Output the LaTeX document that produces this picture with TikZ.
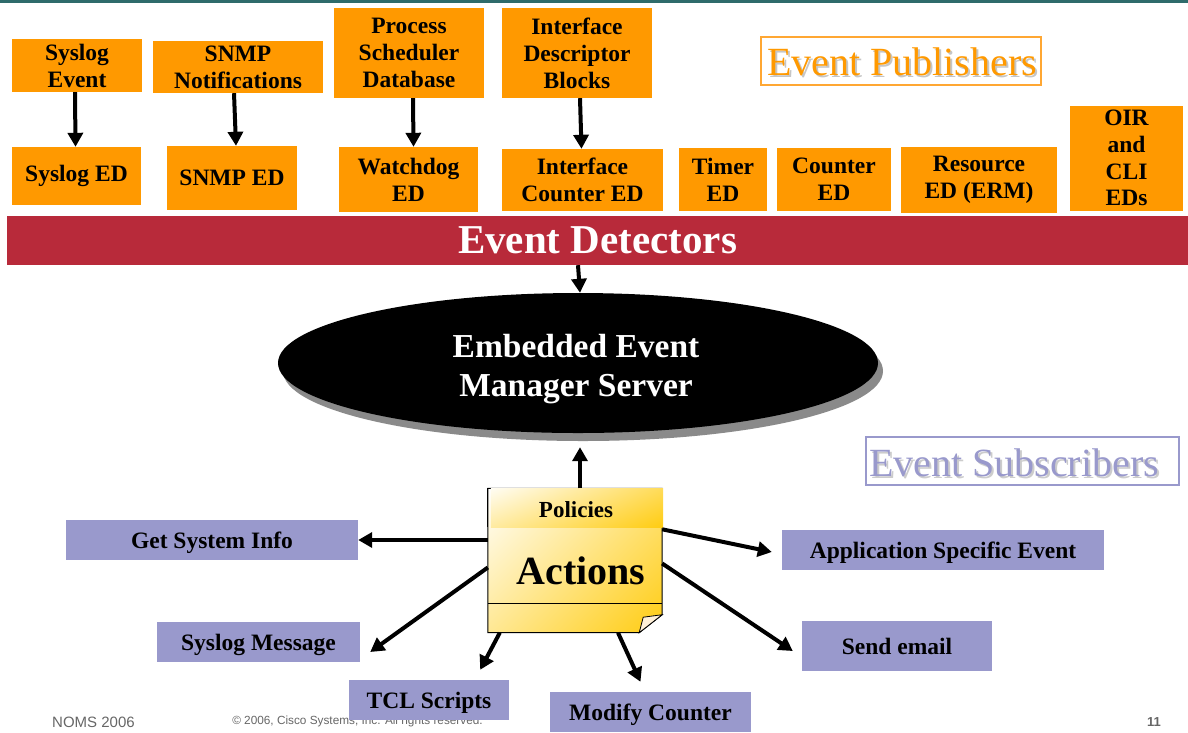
\documentclass[tikz,border=0pt]{standalone}
\usepackage{fontspec}
\setmainfont{Liberation Serif}
\newfontfamily\footfont{Liberation Sans}
\usetikzlibrary{arrows.meta,shapes.geometric,calc,shadings}
\definecolor{eorange}{HTML}{FF9900}
\definecolor{eorangeline}{HTML}{FFA733}
\definecolor{lav}{HTML}{9999CC}
\definecolor{ered}{HTML}{B82A3A}
\definecolor{teal1}{HTML}{2F6B6B}
\definecolor{gold1}{HTML}{FFCC11}
\definecolor{peach}{HTML}{FFF0D8}
\definecolor{footgray}{HTML}{666666}
\definecolor{shadowgray}{HTML}{8A8A8A}
\tikzset{
  ob/.style={fill=eorange, inner sep=0pt, align=center, font=\bfseries\fontsize{23.5}{27}\selectfont},
  lb/.style={fill=lav, inner sep=0pt, align=center, text height=19pt, text depth=3pt, font=\bfseries\fontsize{23.5}{26}\selectfont},
  arr/.style={line width=4pt, -{Triangle[width=15pt,length=14pt]}},
  title/.style={inner sep=0pt, font=\fontsize{40}{44}\selectfont},
}
\begin{document}
\begin{tikzpicture}[x=1pt,y=-1pt]
\useasboundingbox (0,0) rectangle (1188,732);
% top rule
\fill[teal1] (0,0) rectangle (1188,3);

% publishers
\node[ob, minimum width=130pt, minimum height=53pt] (se) at (77,65.5) {Syslog\\Event};
\node[ob, minimum width=170pt, minimum height=52pt] (sn) at (238,67) {SNMP\\Notifications};
\node[ob, minimum width=150pt, minimum height=90pt] (psd) at (409,53) {Process\\Scheduler\\Database};
\node[ob, minimum width=150pt, minimum height=90pt] (idb) at (577,53) {Interface\\Descriptor\\Blocks};

% detectors
\node[ob, minimum width=129pt, minimum height=58pt] (sed) at (76.5,176) {Syslog ED};
\node[ob, minimum width=130pt, minimum height=64pt] (sned) at (232,178) {SNMP ED};
\node[ob, minimum width=139pt, minimum height=65pt] (wed) at (408.5,179.5) {Watchdog\\ED};
\node[ob, minimum width=161pt, minimum height=62pt] (ice) at (582.5,180) {Interface\\Counter ED};
\node[ob, minimum width=88pt, minimum height=63pt] (ted) at (723,179.5) {Timer\\ED};
\node[ob, minimum width=114pt, minimum height=63pt] (ced) at (834,179.5) {Counter\\ED};
\node[ob, minimum width=156pt, minimum height=66pt] (red) at (979,180) {Resource\\ED (ERM)};
\node[ob, minimum width=113pt, minimum height=105pt, font=\bfseries\fontsize{23.5}{26.7}\selectfont] (oir) at (1126.5,158) {OIR\\and\\CLI\\EDs};

\draw[arr] ([xshift=-2pt]se.south) -- ([xshift=-1pt]sed.north);
\draw[arr] ([xshift=-4pt]sn.south) -- ([xshift=4pt]sned.north);
\draw[arr] ([xshift=4pt]psd.south) -- ([xshift=5pt]wed.north);
\draw[arr] ([xshift=3pt]idb.south) -- ([xshift=-1pt]ice.north);

% Event Publishers label
\node[draw=eorangeline, line width=1.2pt, minimum width=280pt, minimum height=48pt] (epbox) at (901,61) {};
\node[title, text=gray!45] (epsh) at (904,64) {Event Publishers};
\node[title, text=eorange] (ep) at (902,62) {Event Publishers};

% red bar
\node[fill=ered, minimum width=1181pt, minimum height=49pt, inner sep=0pt, text=white,
      font=\bfseries\fontsize{41}{43}\selectfont] (bar) at (597.5,240.5) {Event Detectors};

% server ellipse
\node[ellipse, fill=shadowgray, minimum width=600pt, minimum height=140pt, inner sep=0pt] (shd) at (583,371) {};
\node[ellipse, fill=black, minimum width=600pt, minimum height=140pt, inner sep=0pt] (ems) at (578,363) {};
\node[text=white, align=center, inner sep=0pt, font=\bfseries\fontsize{33.5}{39}\selectfont] (emst) at (576,369) {Embedded Event\\Manager Server};
\draw[arr] (ems.north |- bar.south) -- ([xshift=2pt]ems.north);

% Event Subscribers label
\node[draw=lav, line width=1.2pt, minimum width=313pt, minimum height=48pt] (esbox) at (1022.5,461) {};
\node[title, text=gray!40] (essh) at (1016,465) {Event Subscribers};
\node[title, text=lav] (es) at (1014,463) {Event Subscribers};

% footer
\node[font=\footfont\fontsize{15}{17}\selectfont, text=footgray, inner sep=0pt] (noms) at (93.5,722) {NOMS 2006};
\node[font=\footfont\fontsize{11.8}{13}\selectfont, text=footgray, inner sep=0pt] (copy) at (357.5,721) {© 2006, Cisco Systems, Inc. All rights reserved.};
\node[font=\footfont\bfseries\fontsize{13}{15}\selectfont, text=footgray, inner sep=0pt] (pg) at (1154,722) {11};

% subscribers
\node[lb, minimum width=292pt, minimum height=40pt] (gsi) at (212,540) {Get System Info};
\node[lb, minimum width=203pt, minimum height=40pt] (sm) at (258.5,642) {Syslog Message};
\node[lb, minimum width=160pt, minimum height=40pt] (tcl) at (429,700) {TCL Scripts};
\node[lb, minimum width=201pt, minimum height=40pt] (mc) at (650.5,712) {Modify Counter};
\node[lb, minimum width=322pt, minimum height=40pt] (ase) at (943,550) {Application Specific Event};
\node[lb, minimum width=190pt, minimum height=50pt] (sem) at (897,646) {Send email};

% note
\node[minimum width=174pt, minimum height=144pt, inner sep=0pt] (note) at (575,560.5) {};
\shadedraw[upper left=white, upper right=gold1!55, lower left=gold1!45, lower right=gold1, line width=1pt]
  (note.north west) -- (note.north east) -- ([yshift=18pt]note.south east)
  -- ([xshift=-23pt]note.south east) -- (note.south west) -- cycle;
\shade[upper left=white!95!gold1, lower left=gold1!40, upper right=gold1!70, lower right=gold1]
  ([xshift=3pt]note.north west) rectangle ([xshift=1pt,yshift=-39pt]note.north east);
\draw[line width=1pt] (note.north west) -- ([yshift=-39pt]note.north west);
\draw[line width=1pt] ([yshift=29.5pt]note.south west) -- ([yshift=29.5pt]note.south east);
\filldraw[fill=peach, line width=0.8pt] ([yshift=18pt]note.south east) -- ([xshift=-23pt]note.south east)
  -- ([xshift=-19pt,yshift=15.5pt]note.south east) -- cycle;
\node[inner sep=0pt, font=\bfseries\fontsize{23}{25}\selectfont] (pol) at (576,510) {Policies};
\node[inner sep=0pt, font=\bfseries\fontsize{40}{44}\selectfont] (act) at (581,571) {Actions};

% note arrows
\draw[arr] (note.north -| ems.south) ++(2pt,0) -- ([xshift=2pt,yshift=-14pt]ems.south);
\draw[arr] (note.west |- gsi.east) -- (gsi.east);
\draw[arr] ([yshift=-7pt]note.west) -- ([xshift=10pt,yshift=-10pt]sm.east);
\draw[arr] ([xshift=12pt]note.south west) -- ([xshift=-29pt,yshift=10pt]tcl.north east);
\draw[arr] ([xshift=43pt]note.south) -- ([xshift=-10pt,yshift=10pt]mc.north);
\draw[arr] ([yshift=-41pt]note.north east) -- ([xshift=-10pt,yshift=-2pt]ase.west);
\draw[arr] ([yshift=-3pt]note.east) -- ([xshift=-9pt,yshift=-5pt]sem.west);
\end{tikzpicture}
\end{document}
